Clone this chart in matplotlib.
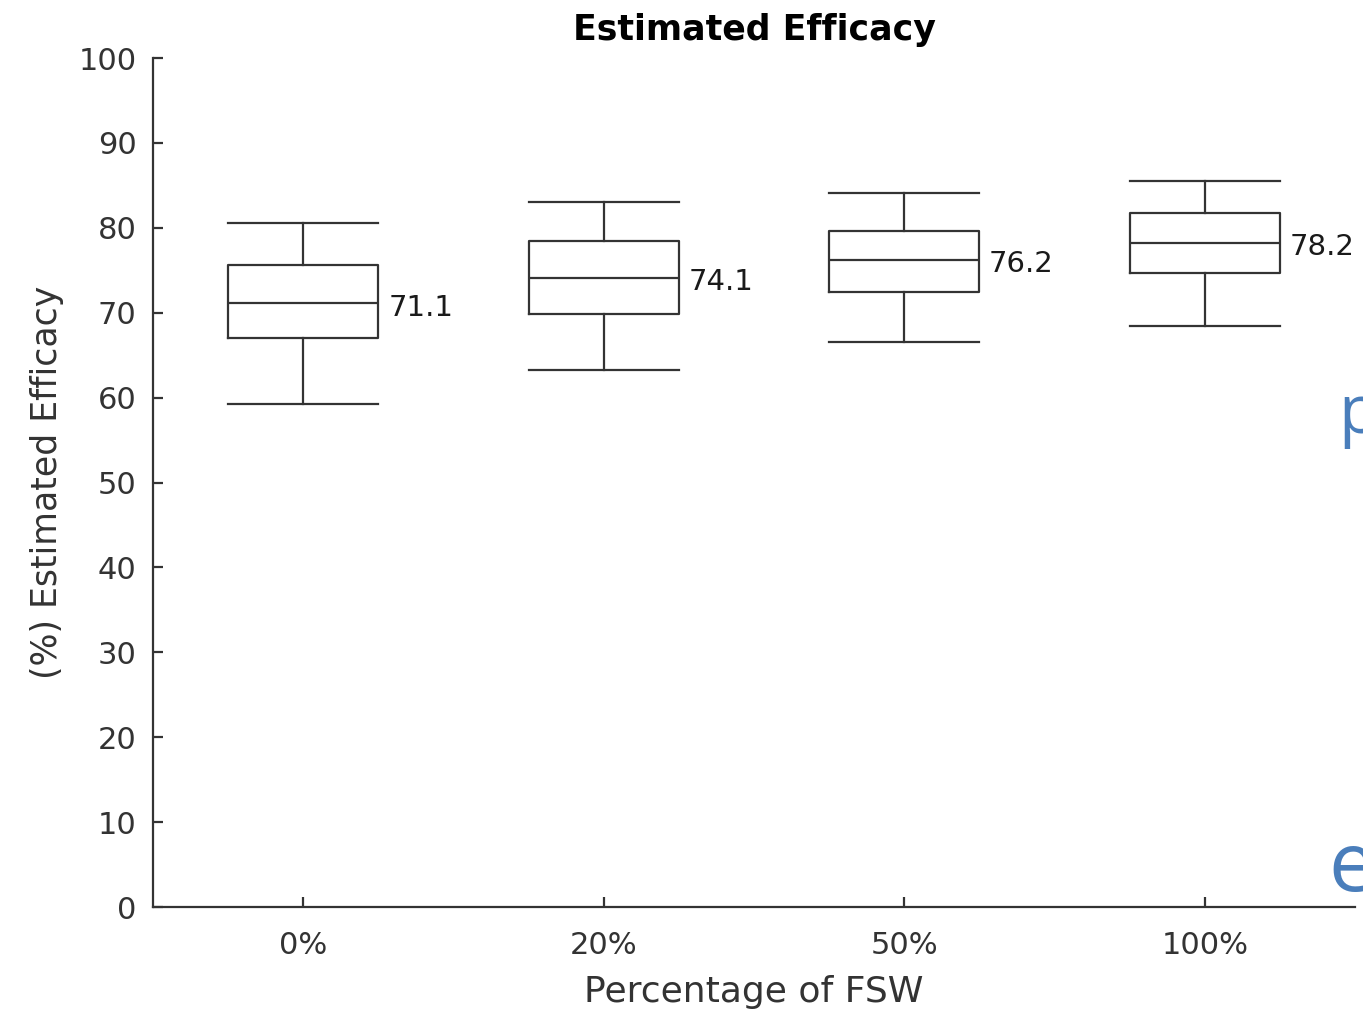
import matplotlib
matplotlib.use("Agg")
import matplotlib.pyplot as plt

categories = ["0%", "20%", "50%", "100%"]
whisker_low = [59.2, 63.2, 66.5, 68.4]
q1 = [67.0, 69.8, 72.4, 74.7]
medians = [71.1, 74.1, 76.2, 78.2]
q3 = [75.6, 78.4, 79.6, 81.7]
whisker_high = [80.6, 83.0, 84.1, 85.5]
yticks = [0, 10, 20, 30, 40, 50, 60, 70, 80, 90, 100]

plt.rcParams['font.family'] = ['DejaVu Sans']

fig = plt.figure(figsize=(13.63, 10.13), dpi=100)
ax = fig.add_axes([0.1123, 0.1046, 0.8818, 0.8381])

stats = []
for i, c in enumerate(categories):
    stats.append(dict(label=c, whislo=whisker_low[i], q1=q1[i], med=medians[i],
                      q3=q3[i], whishi=whisker_high[i], fliers=[]))

lc = '#333333'
lw = 1.6
ax.bxp(stats, positions=range(1, len(categories) + 1), widths=0.5,
       showfliers=False,
       boxprops=dict(color=lc, linewidth=lw),
       medianprops=dict(color=lc, linewidth=lw),
       whiskerprops=dict(color=lc, linewidth=lw),
       capprops=dict(color=lc, linewidth=lw),
       capwidths=0.5)

for i, m in enumerate(medians):
    ax.annotate(f"{m:.1f}", xy=(i + 1 + 0.25, m), xytext=(7, -3),
                textcoords='offset points', ha='left', va='center',
                fontsize=21, color='#1a1a1a')

ax.set_xlim(0.5, 4.5)
ax.set_ylim(0, 100)
ax.set_yticks(yticks)
ax.set_xticks(range(1, len(categories) + 1))
ax.set_xticklabels(categories)
ax.tick_params(direction='in', length=7, width=1.6, color=lc,
               labelsize=22, labelcolor='#333333', pad=12)
ax.tick_params(axis='x', pad=17)
for s in ['top', 'right']:
    ax.spines[s].set_visible(False)
for s in ['left', 'bottom']:
    ax.spines[s].set_linewidth(1.6)
    ax.spines[s].set_color(lc)

ax.set_title("Estimated Efficacy", fontsize=25, fontweight='bold', pad=13)
ax.set_xlabel("Percentage of FSW", fontsize=26, color='#333333', labelpad=11)
ax.set_ylabel("(%) Estimated Efficacy", fontsize=25, color='#333333', labelpad=10)

fig.text(1338 / 1363, 1 - 433 / 1013, "p", fontsize=48, color='#4a7ebb',
         family=['Open Sans', 'DejaVu Sans'], ha='left', va='baseline')
fig.text(1328 / 1363, 1 - 891 / 1013, "e", fontsize=60, color='#4a7ebb',
         family=['Open Sans', 'DejaVu Sans'], ha='left', va='baseline')

fig.savefig("out.png", dpi=100)
